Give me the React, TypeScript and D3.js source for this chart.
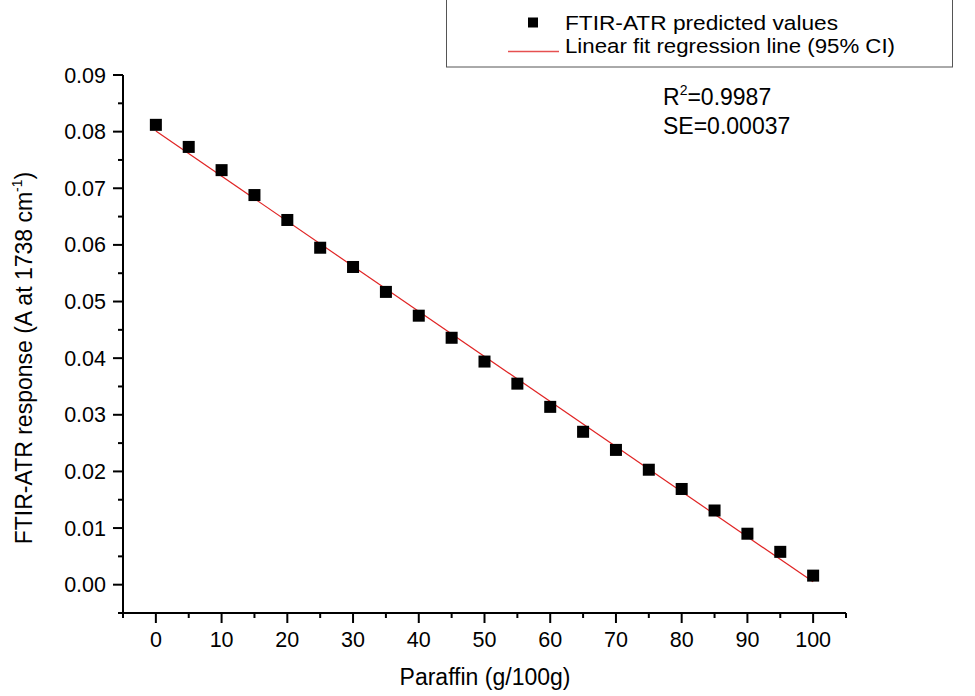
import React from "react";
import * as d3 from "d3";

const paraffin = [0, 5, 10, 15, 20, 25, 30, 35, 40, 45, 50, 55, 60, 65, 70, 75, 80, 85, 90, 95, 100];
const response = [0.0812, 0.0773, 0.0732, 0.0688, 0.0644, 0.0595, 0.0561, 0.0517, 0.0475, 0.0436, 0.0394, 0.0355, 0.0314, 0.0270, 0.0238, 0.0203, 0.0169, 0.0131, 0.0090, 0.0058, 0.0016];
const fitX = [0, 100];
const fitY = [0.0801, 0.0005];
const xMajorTicks = [0, 10, 20, 30, 40, 50, 60, 70, 80, 90, 100];
const xMinorTicks = [-5, 5, 15, 25, 35, 45, 55, 65, 75, 85, 95, 105];
const yMajorTicks = [0, 0.01, 0.02, 0.03, 0.04, 0.05, 0.06, 0.07, 0.08, 0.09];
const yMinorTicks = [-0.005, 0.005, 0.015, 0.025, 0.035, 0.045, 0.055, 0.065, 0.075, 0.085];
const legendLabels = ["FTIR-ATR predicted values", "Linear fit regression line (95% CI)"];

const W = 975, H = 696;
const FONT = "'Liberation Sans', Arial, sans-serif";

export default function App() {
  const x = d3.scaleLinear().domain([-5, 105]).range([123, 846]);
  const y = d3.scaleLinear().domain([-0.005, 0.09]).range([613, 75]);
  const line = d3.line<number>().x((d) => x(d)).y((_, i) => y(fitY[i]));
  const ms = 12;
  return (
    <svg width={W} height={H} style={{ position: "absolute", left: 0, top: 0, background: "#fff" }} fontFamily={FONT}>
      <rect x={0} y={0} width={W} height={H} fill="#fff" />
      {/* axes */}
      <line x1={123} x2={123} y1={y(0.09)} y2={y(-0.005)} stroke="#000" strokeWidth={2} />
      <line x1={x(-5)} x2={x(105)} y1={613} y2={613} stroke="#000" strokeWidth={2} />
      {yMajorTicks.map((t) => (
        <g key={"ym" + t}>
          <line x1={113} x2={123} y1={y(t)} y2={y(t)} stroke="#000" strokeWidth={2} />
          <text x={106} y={y(t)} dy="0.35em" textAnchor="end" fontSize={21.5}>{t.toFixed(2)}</text>
        </g>
      ))}
      {yMinorTicks.map((t) => (
        <line key={"yn" + t} x1={118} x2={123} y1={y(t)} y2={y(t)} stroke="#000" strokeWidth={2} />
      ))}
      {xMajorTicks.map((t) => (
        <g key={"xm" + t}>
          <line x1={x(t)} x2={x(t)} y1={613} y2={623} stroke="#000" strokeWidth={2} />
          <text x={x(t)} y={647} textAnchor="middle" fontSize={21.5}>{t}</text>
        </g>
      ))}
      {xMinorTicks.map((t) => (
        <line key={"xn" + t} x1={x(t)} x2={x(t)} y1={613} y2={618} stroke="#000" strokeWidth={2} />
      ))}
      {/* axis titles */}
      <text x={485} y={685} textAnchor="middle" fontSize={23}>Paraffin (g/100g)</text>
      <text transform={`translate(32,358) rotate(-90)`} textAnchor="middle" fontSize={23}>
        FTIR-ATR response (A at 1738 cm<tspan dy={-10} fontSize={14}>-1</tspan><tspan dy={10}>)</tspan>
      </text>
      {/* fit line */}
      <path d={line(fitX) || ""} fill="none" stroke="#e02424" strokeWidth={1.2} />
      {/* points */}
      {paraffin.map((p, i) => (
        <rect key={"p" + i} x={x(p) - ms / 2} y={y(response[i]) - ms / 2} width={ms} height={ms} fill="#000" />
      ))}
      {/* annotation */}
      <text x={663} y={105} fontSize={23}>R<tspan dy={-10} fontSize={14}>2</tspan><tspan dy={10}>=0.9987</tspan></text>
      <text x={663} y={134} fontSize={23}>SE=0.00037</text>
      {/* legend */}
      <rect x={446.5} y={-1} width={506} height={68} fill="#fff" stroke="#555" strokeWidth={1} />
      <rect x={528} y={17.5} width={10} height={10} fill="#000" />
      <text x={565} y={29.5} fontSize={20.5} textLength={273} lengthAdjust="spacingAndGlyphs">{legendLabels[0]}</text>
      <line x1={508} x2={559} y1={51.5} y2={51.5} stroke="#e65050" strokeWidth={1.5} />
      <text x={565} y={53} fontSize={20.5} textLength={330} lengthAdjust="spacingAndGlyphs">{legendLabels[1]}</text>
    </svg>
  );
}
